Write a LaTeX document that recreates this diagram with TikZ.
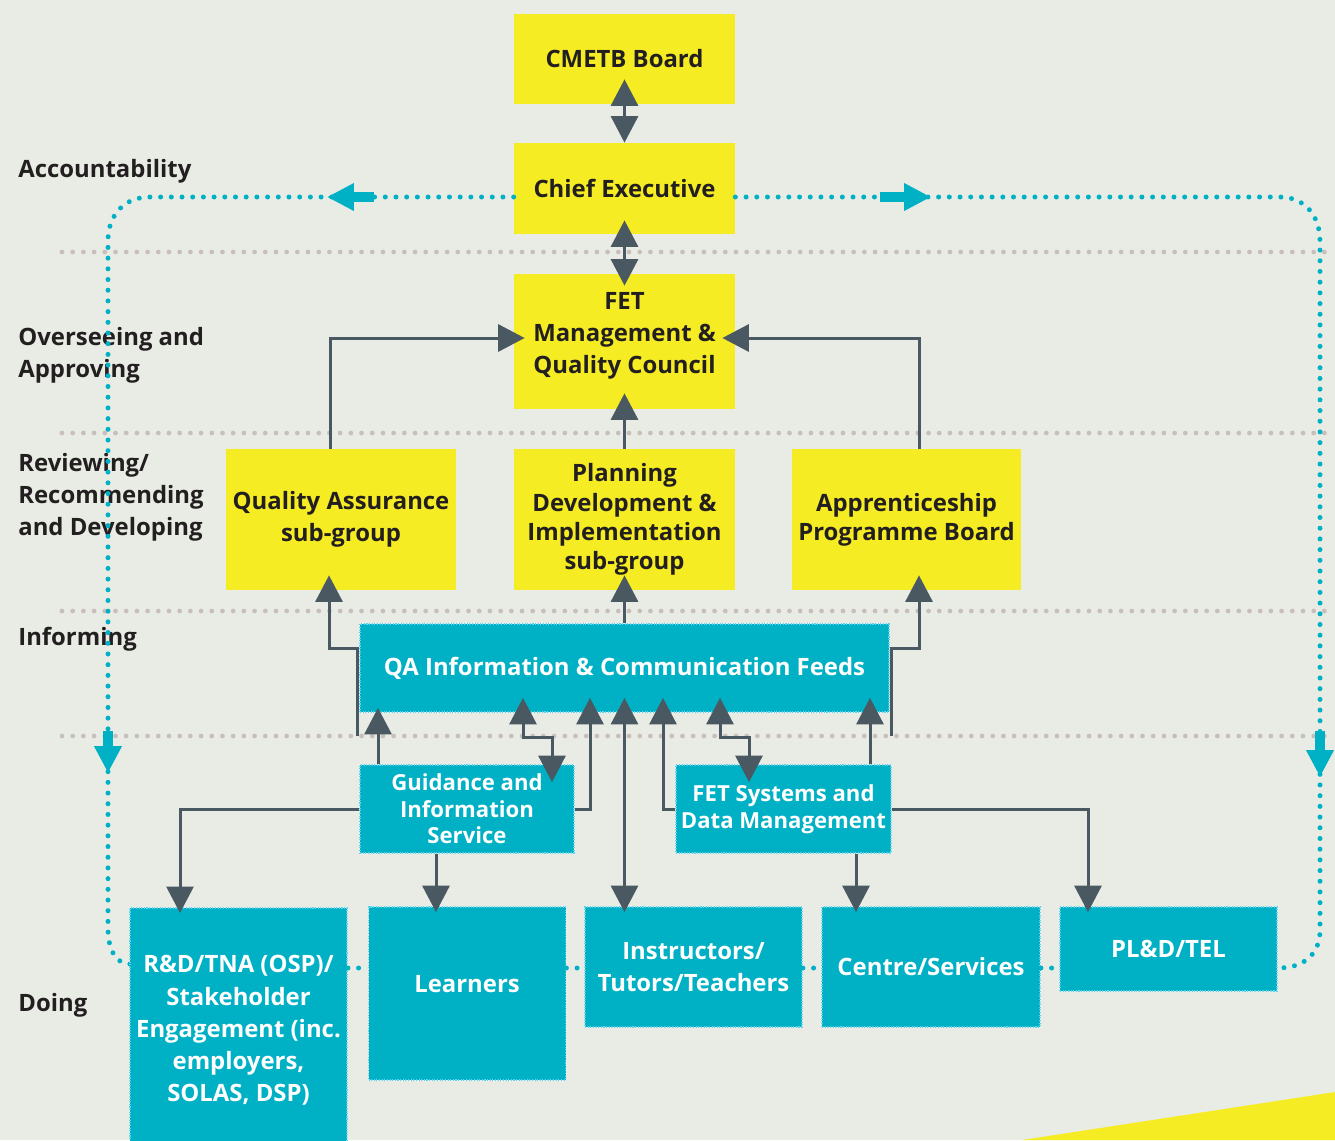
\documentclass[tikz,border=0pt]{standalone}
\usepackage{fontspec}
\setmainfont{Open Sans}
\usetikzlibrary{arrows.meta,calc}
\definecolor{bgc}{RGB}{233,236,229}
\definecolor{cmyellow}{RGB}{245,236,35}
\definecolor{cmteal}{RGB}{0,176,196}
\definecolor{cmtealdot}{RGB}{90,212,240}
\definecolor{cmgray}{RGB}{74,88,98}
\definecolor{cmdark}{RGB}{35,31,32}
\definecolor{cmgrid}{RGB}{200,190,188}
\newcommand{\pxu}{0.02cm}
\newcommand{\bigf}{\bfseries\fontsize{13.6}{18.3}\selectfont}
\newcommand{\planf}{\bfseries\fontsize{13.6}{16.7}\selectfont}
\newcommand{\smallf}{\bfseries\fontsize{12.6}{15.1}\selectfont}
\tikzset{
  ybox/.style={fill=cmyellow, text=cmdark, align=center, inner sep=0pt, font=\bigf},
  ytext/.style={text=cmdark, align=center, inner sep=0pt, font=\bigf},
  tbox/.style={fill=cmteal, draw=cmtealdot, line width=1pt, dash pattern=on 0.6pt off 0.9pt, text=white, align=center, inner sep=0pt, font=\bigf},
  wtext/.style={text=white, align=center, inner sep=0pt, font=\bigf},
  garrow/.style={draw=cmgray, line width=0.06cm, -{Triangle[length=0.53cm,width=0.54cm]}},
  gdbl/.style={draw=cmgray, line width=0.06cm, {Triangle[length=0.53cm,width=0.54cm]}-{Triangle[length=0.53cm,width=0.54cm]}},
  tarrow/.style={draw=cmteal, line width=0.2cm, -{Triangle[length=0.54cm,width=0.52cm]}},
  tloop/.style={draw=cmteal, line width=0.1cm, line cap=round, dash pattern=on 0pt off 0.214cm},
  gridl/.style={draw=cmgrid, line width=0.095cm, line cap=round, dash pattern=on 0pt off 0.214cm},
  lbl/.style={anchor=west, align=left, text=cmdark, font=\bigf, inner sep=0pt}
}
\begin{document}
\begin{tikzpicture}[x=0.02cm,y=-0.02cm]
\useasboundingbox (0,0) rectangle (1335,1140);
\clip (0,0) rectangle (1335,1140);
\fill[bgc] (0,0) rectangle (1335,1140);
\fill[cmyellow] (1022,1140) -- (1335,1092) -- (1335,1140) -- cycle;

% level separators
\foreach \yy in {252,433,611,736} \draw[gridl] (62,\yy) -- (1335,\yy);

% level labels
\node[lbl] (lacc) at (18,171) {Accountability};
\node[lbl] (love) at (18,355) {Overseeing and\\Approving};
\node[lbl] (lrev) at (18,497) {Reviewing/\\Recommending\\and Developing};
\node[lbl] (linf) at (18,639) {Informing};
\node[lbl] (ldo) at (18,1005) {Doing};

% named coordinates
\coordinate (kyA) at (0,737);
\coordinate (kyB) at (0,968);
\coordinate (kyC) at (0,964);
\foreach \xx in {130,378,436,523,552,590,663,720,749,856,870,180,1088} \coordinate (k\xx) at (\xx,0);
\coordinate (tlA) at (374,197);
\coordinate (tlB) at (327,197);
\coordinate (trA) at (880,197);
\coordinate (trB) at (931,197);
\coordinate (tdlA) at (108,731);
\coordinate (tdlB) at (108,773);
\coordinate (tdrA) at (1320,731);
\coordinate (tdrB) at (1320,777);
\coordinate (qaL) at (357,736);
\coordinate (qaLb) at (357,648);
\coordinate (apR) at (891,736);
\coordinate (apRb) at (891,648);

% boxes
\node[ybox, minimum width=221*\pxu, minimum height=90*\pxu] (cmetb) at (624.5,59) {CMETB Board};
\node[ybox, minimum width=221*\pxu, minimum height=91*\pxu] (ce) at (624.5,188.5) {Chief Executive};
\node[ybox, minimum width=221*\pxu, minimum height=135*\pxu] (fet) at (624.5,341.5) {};
\node[ytext] (fettxt) at (624.5,336) {FET\\Management \&\\Quality Council};
\node[ybox, minimum width=230*\pxu, minimum height=141*\pxu] (qasub) at (341,519.5) {Quality Assurance\\sub-group};
\node[ybox, minimum width=221*\pxu, minimum height=141*\pxu, font=\planf] (plan) at (624.5,519.5) {Planning\\Development \&\\Implementation\\sub-group};
\node[ybox, minimum width=229*\pxu, minimum height=141*\pxu, font=\planf] (appr) at (906.5,519.5) {Apprenticeship\\Programme Board};

\coordinate (ceL) at ([yshift=-0.17cm]ce.west);
\coordinate (ceR) at ([yshift=-0.17cm]ce.east);

% teal accountability loops (under teal boxes)
\draw[tloop] (ceL) -- (150,197) .. controls (124,197) and (108,215) .. (108,241) -- (108,928) .. controls (108,950) and (116,964) .. (kyC -| k130);
\draw[tloop] (ceR) -- (1280,197) .. controls (1304,197) and (1320,215) .. (1320,241) -- (1320,930) .. controls (1320,954) and (1304,968) .. (1278,968);
\draw[tarrow] (tlA) -- (tlB);
\draw[tarrow] (trA) -- (trB);
\draw[tarrow] (tdlA) -- (tdlB);
\draw[tarrow] (tdrA) -- (tdrB);

\node[tbox, minimum width=529*\pxu, minimum height=88*\pxu] (feeds) at (624.5,668) {QA Information \& Communication Feeds};
\node[tbox, minimum width=214*\pxu, minimum height=88*\pxu, font=\smallf] (guid) at (467,809) {Guidance and\\Information\\Service};
\node[tbox, minimum width=215*\pxu, minimum height=88*\pxu, font=\smallf] (fets) at (783.5,809) {FET Systems and\\Data Management};
\node[tbox, minimum width=217*\pxu, minimum height=245*\pxu, anchor=north] (rd) at (238.5,907) {R\&D/TNA (OSP)/\\Stakeholder\\Engagement (inc.\\employers,\\SOLAS, DSP)};
\node[tbox, minimum width=197*\pxu, minimum height=173*\pxu] (learn) at (467,993.5) {};
\node[wtext] (learntxt) at (467,984) {Learners};
\node[tbox, minimum width=217*\pxu, minimum height=120*\pxu] (instr) at (693.5,967) {Instructors/\\Tutors/Teachers};
\node[tbox, minimum width=218*\pxu, minimum height=120*\pxu] (centre) at (931,967) {Centre/Services};
\node[tbox, minimum width=217*\pxu, minimum height=84*\pxu] (pld) at (1168.5,949) {PL\&D/TEL};

% dotted links between the doing boxes
\draw[tloop] (rd.east |- kyB) -- (learn.west |- kyB);
\draw[tloop] (learn.east |- kyB) -- (instr.west |- kyB);
\draw[tloop] (instr.east |- kyB) -- (centre.west |- kyB);
\draw[tloop] (centre.east |- kyB) -- (pld.west |- kyB);

% governance arrows
\draw[gdbl, shorten <=-0.5cm] (cmetb.south) -- (ce.north);
\draw[gdbl, shorten <=-0.28cm, shorten >=-0.24cm] (ce.south) -- (fet.north);
\draw[garrow, shorten >=-0.22cm] ([xshift=-11*\pxu]qasub.north) |- ([yshift=0.07cm]fet.west);
\draw[garrow, shorten >=-0.26cm] ([xshift=12.5*\pxu]appr.north) |- ([yshift=0.07cm]fet.east);
\draw[garrow, shorten >=-0.32cm] (plan.north) -- (fet.south);
\draw[garrow, shorten >=-0.3cm] (qaL) -- (qaLb) -| ([xshift=-12*\pxu]qasub.south);
\draw[garrow, shorten >=-0.3cm] (apR) -- (apRb) -| ([xshift=12.5*\pxu]appr.south);
\draw[garrow, shorten >=-0.3cm] (feeds.north) -- (plan.south);

% informing arrows
\draw[garrow, shorten >=-0.1cm] (guid.north -| k378) -- (feeds.south -| k378);
\draw[gdbl, shorten <=-0.3cm, shorten >=-0.36cm] (feeds.south -| k523) -- (k523 |- kyA) -| (guid.north -| k552);
\draw[garrow, shorten >=-0.3cm] (guid.east) -| (feeds.south -| k590);
\draw[gdbl, shorten <=-0.3cm, shorten >=-0.12cm] (feeds.south) -- (feeds.south |- instr.north);
\draw[garrow, shorten >=-0.3cm] (fets.west) -| (feeds.south -| k663);
\draw[gdbl, shorten <=-0.3cm, shorten >=-0.36cm] (feeds.south -| k720) -- (k720 |- kyA) -| (fets.north -| k749);
\draw[garrow, shorten >=-0.3cm] (fets.north -| k870) -- (feeds.south -| k870);

% doing arrows
\draw[garrow, shorten >=-0.12cm] (guid.west) -| (rd.north -| k180);
\draw[garrow, shorten >=-0.12cm] (guid.south -| k436) -- (learn.north -| k436);
\draw[garrow, shorten >=-0.12cm] (fets.south -| k856) -- (centre.north -| k856);
\draw[garrow, shorten >=-0.12cm] (fets.east) -| (pld.north -| k1088);
\end{tikzpicture}
\end{document}
